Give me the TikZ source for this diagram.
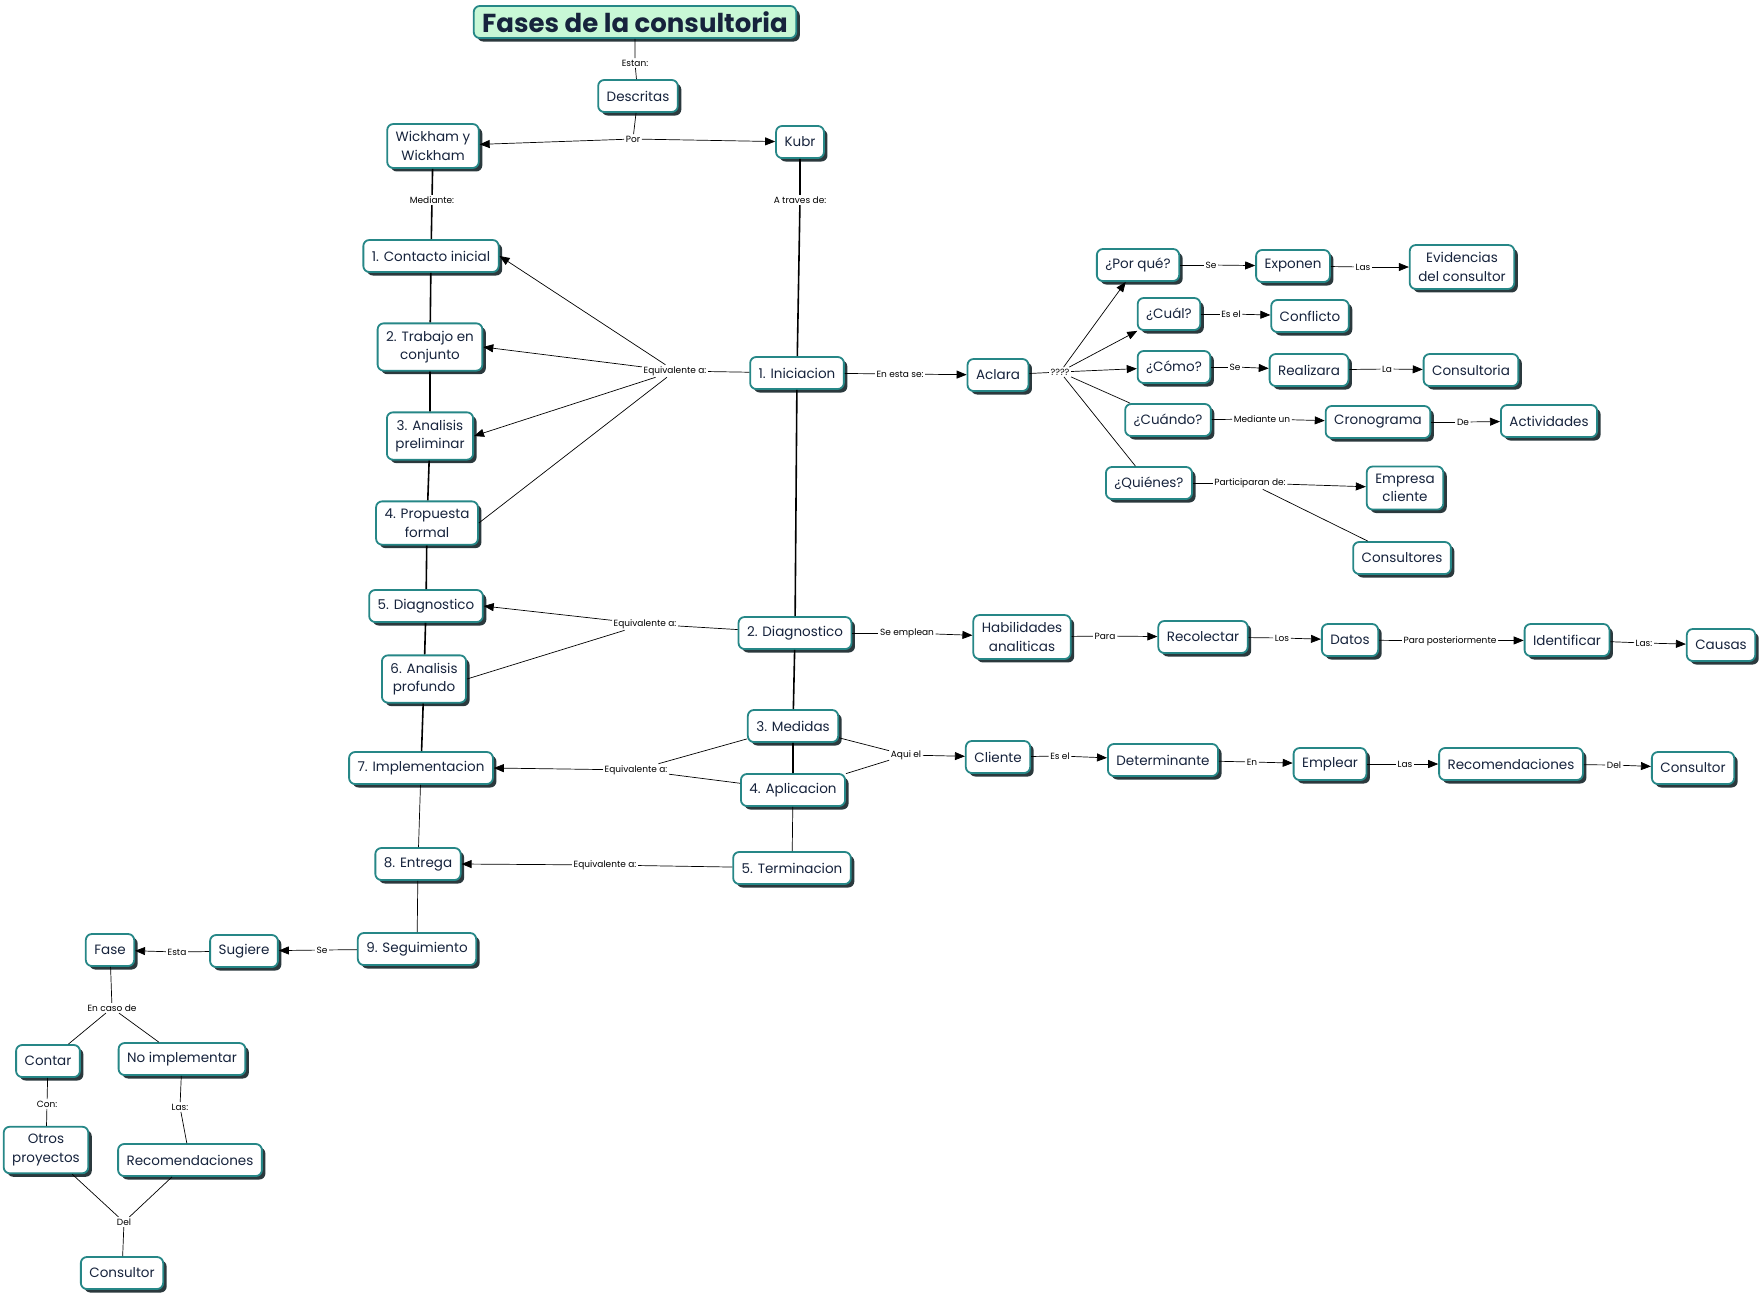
\documentclass[tikz,border=0pt]{standalone}
\usepackage{fontspec}
\setmainfont{Poppins}
\usetikzlibrary{arrows.meta,shadows}
\definecolor{mapteal}{RGB}{38,135,135}
\definecolor{mapnavy}{RGB}{22,35,60}
\definecolor{mapmint}{RGB}{200,248,214}
\definecolor{mapshade}{RGB}{20,35,40}

\begin{document}
\begin{tikzpicture}[x=1pt, y=-1pt,
      concept/.style={draw=mapteal, line width=1.8pt, rounded corners=6pt, fill=white, text=mapnavy, font=\fontsize{13.5}{18.5}\selectfont, align=center, inner xsep=8.5pt, inner ysep=7.5pt, minimum height=32pt, drop shadow={shadow xshift=3.5pt, shadow yshift=-3.5pt, fill=mapshade, opacity=0.9}},
      phrase/.style={font=\fontsize{9}{10}\selectfont, inner sep=1.5pt},
      link/.style={line width=0.7pt},
      spine/.style={line width=1.6pt},
      toarrow/.style={-{Triangle[length=10pt, width=8pt]}}
    ]
      \useasboundingbox (0,0) rectangle (1761,1294);

      \node[concept, fill=mapmint, inner ysep=4pt, font=\bfseries\fontsize{26}{30}\selectfont] (title) at (635,22) {Fases de la consultoria};
      \node[phrase] (estan) at (635,63) {Estan:};
      \node[concept] (desc) at (638,96) {Descritas};
      \node[phrase] (por) at (633,139) {Por};
      \node[concept] (wick) at (433,146) {Wickham y\\Wickham};
      \node[concept] (kubr) at (800,142) {Kubr};
      \node[phrase] (mediante) at (432,200) {Mediante:};
      \node[phrase] (atraves) at (800,200) {A traves de:};

      \node[concept] (contacto) at (431,256) {1. Contacto inicial};
      \node[concept] (trabajo) at (430,347) {2. Trabajo en\\conjunto};
      \node[concept] (prelim) at (430,436) {3. Analisis\\preliminar};
      \node[concept] (propuesta) at (427,523) {4. Propuesta\\formal};
      \node[concept] (diagl) at (426,606) {5. Diagnostico};
      \node[concept] (profundo) at (424,679) {6. Analisis\\profundo};
      \node[concept] (implem) at (421,768) {7. Implementacion};
      \node[concept] (entrega) at (418,864) {8. Entrega};
      \node[concept] (seguim) at (417,949) {9. Seguimiento};

      \node[phrase] (equiv1) at (675,371) {Equivalente a:};
      \node[phrase] (equiv2) at (645,624) {Equivalente a:};
      \node[phrase] (equiv3) at (636,770) {Equivalente a:};
      \node[phrase] (equiv4) at (605,865) {Equivalente a:};

      \node[concept] (inic) at (797,373) {1. Iniciacion};
      \node[concept] (diag) at (795,633) {2. Diagnostico};
      \node[concept] (medidas) at (793,726) {3. Medidas};
      \node[concept] (aplic) at (793,790) {4. Aplicacion};
      \node[concept] (termin) at (792,868) {5. Terminacion};

      \node[phrase] (enesta) at (900,374) {En esta se:};
      \node[concept] (aclara) at (998,375) {Aclara};
      \node[phrase] (preg) at (1060,372) {????};

      \node[concept] (porque) at (1138,265) {¿Por qué?};
      \node[phrase] (se1) at (1211,265) {Se};
      \node[concept] (exponen) at (1293,266) {Exponen};
      \node[phrase] (las1) at (1363,267) {Las};
      \node[concept] (evid) at (1462,267) {Evidencias\\del consultor};

      \node[concept] (cual) at (1169,314) {¿Cuál?};
      \node[phrase] (esel1) at (1231,314) {Es el};
      \node[concept] (conflicto) at (1310,316) {Conflicto};

      \node[concept] (como) at (1174,367) {¿Cómo?};
      \node[phrase] (se2) at (1235,367) {Se};
      \node[concept] (realiza) at (1309,370) {Realizara};
      \node[phrase] (la) at (1387,369) {La};
      \node[concept] (consultoria) at (1471,370) {Consultoria};

      \node[concept] (cuando) at (1168,420) {¿Cuándo?};
      \node[phrase] (medun) at (1262,419) {Mediante un};
      \node[concept] (crono) at (1378,422) {Cronograma};
      \node[phrase] (de) at (1463,422) {De};
      \node[concept] (activ) at (1549,421) {Actividades};

      \node[concept] (quienes) at (1149,483) {¿Quiénes?};
      \node[phrase] (particip) at (1250,483) {Participaran de:};
      \node[concept] (empresa) at (1405,488) {Empresa\\cliente};
      \node[concept] (consultores) at (1402,558) {Consultores};

      \node[phrase] (seemplean) at (907,633) {Se emplean};
      \node[concept] (habil) at (1022,637) {Habilidades\\analiticas};
      \node[phrase] (para) at (1105,636) {Para};
      \node[concept] (recolectar) at (1203,637) {Recolectar};
      \node[phrase] (los) at (1282,638) {Los};
      \node[concept] (datos) at (1350,640) {Datos};
      \node[phrase] (parapost) at (1450,641) {Para posteriormente};
      \node[concept] (identif) at (1567,640) {Identificar};
      \node[phrase] (las2) at (1644,643) {Las:};
      \node[concept] (causas) at (1721,645) {Causas};

      \node[phrase] (aqui) at (906,755) {Aqui el};
      \node[concept] (cliente) at (998,757) {Cliente};
      \node[phrase] (esel2) at (1060,756) {Es el};
      \node[concept] (determ) at (1163,760) {Determinante};
      \node[phrase] (en) at (1252,762) {En};
      \node[concept] (emplear) at (1330,764) {Emplear};
      \node[phrase] (las3) at (1405,764) {Las};
      \node[concept] (recomr) at (1511,764) {Recomendaciones};
      \node[phrase] (del1) at (1614,765) {Del};
      \node[concept] (consultorr) at (1693,768) {Consultor};

      \node[phrase] (se3) at (322,950) {Se};
      \node[concept] (sugiere) at (244,951) {Sugiere};
      \node[phrase] (esta) at (177,952) {Esta};
      \node[concept] (fase) at (110,950) {Fase};
      \node[phrase] (encaso) at (112,1008) {En caso de};
      \node[concept] (contar) at (48,1061) {Contar};
      \node[concept] (noimpl) at (182,1059) {No implementar};
      \node[phrase] (con) at (47,1104) {Con:};
      \node[phrase] (las4) at (180,1107) {Las:};
      \node[concept] (otros) at (46,1150) {Otros\\proyectos};
      \node[concept] (recoml) at (190,1160) {Recomendaciones};
      \node[phrase] (del2) at (124,1222) {Del};
      \node[concept] (consultorl) at (122,1273) {Consultor};

      \draw[link] (title) -- (estan) -- (desc);
      \draw[link] (desc) -- (por);
      \draw[link, toarrow] (por) -- (wick);
      \draw[link, toarrow] (por) -- (kubr);
      \draw[spine] (wick) -- (mediante) -- (contacto);
      \draw[spine] (kubr) -- (atraves) -- (inic);

      \draw[spine] (contacto) -- (trabajo) -- (prelim) -- (propuesta) -- (diagl) -- (profundo) -- (implem);
      \draw[link] (implem) -- (entrega) -- (seguim);
      \draw[spine] (inic) -- (diag) -- (medidas) -- (aplic);
      \draw[link] (aplic) -- (termin);

      \draw[link] (inic) -- (equiv1);
      \draw[link, toarrow] (equiv1) -- (contacto.east);
      \draw[link, toarrow] (equiv1) -- (trabajo.east);
      \draw[link, toarrow] (equiv1) -- (prelim.east);
      \draw[link] (equiv1) -- (propuesta.east);

      \draw[link] (diag) -- (equiv2);
      \draw[link, toarrow] (equiv2) -- (diagl.east);
      \draw[link] (equiv2) -- (profundo.east);

      \draw[link] (medidas) -- (equiv3);
      \draw[link] (aplic) -- (equiv3);
      \draw[link, toarrow] (equiv3) -- (implem.east);

      \draw[link] (termin) -- (equiv4);
      \draw[link, toarrow] (equiv4) -- (entrega.east);

      \draw[link] (inic) -- (enesta);
      \draw[link, toarrow] (enesta) -- (aclara);
      \draw[link] (aclara) -- (preg);
      \draw[link, toarrow] (preg) -- (porque);
      \draw[link, toarrow] (preg) -- (cual);
      \draw[link, toarrow] (preg) -- (como);
      \draw[link] (preg) -- (cuando);
      \draw[link] (preg) -- (quienes);

      \draw[link] (porque) -- (se1);
      \draw[link, toarrow] (se1) -- (exponen);
      \draw[link] (exponen) -- (las1);
      \draw[link, toarrow] (las1) -- (evid);
      \draw[link] (cual) -- (esel1);
      \draw[link, toarrow] (esel1) -- (conflicto);
      \draw[link] (como) -- (se2);
      \draw[link, toarrow] (se2) -- (realiza);
      \draw[link] (realiza) -- (la);
      \draw[link, toarrow] (la) -- (consultoria);
      \draw[link] (cuando) -- (medun);
      \draw[link, toarrow] (medun) -- (crono);
      \draw[link] (crono) -- (de);
      \draw[link, toarrow] (de) -- (activ);
      \draw[link] (quienes) -- (particip);
      \draw[link, toarrow] (particip) -- (empresa);
      \draw[link] (particip) -- (consultores);

      \draw[link] (diag) -- (seemplean);
      \draw[link, toarrow] (seemplean) -- (habil);
      \draw[link] (habil) -- (para);
      \draw[link, toarrow] (para) -- (recolectar);
      \draw[link] (recolectar) -- (los);
      \draw[link, toarrow] (los) -- (datos);
      \draw[link] (datos) -- (parapost);
      \draw[link, toarrow] (parapost) -- (identif);
      \draw[link] (identif) -- (las2);
      \draw[link, toarrow] (las2) -- (causas);

      \draw[link] (medidas) -- (aqui);
      \draw[link] (aplic) -- (aqui);
      \draw[link, toarrow] (aqui) -- (cliente);
      \draw[link] (cliente) -- (esel2);
      \draw[link, toarrow] (esel2) -- (determ);
      \draw[link] (determ) -- (en);
      \draw[link, toarrow] (en) -- (emplear);
      \draw[link] (emplear) -- (las3);
      \draw[link, toarrow] (las3) -- (recomr);
      \draw[link] (recomr) -- (del1);
      \draw[link, toarrow] (del1) -- (consultorr);

      \draw[link] (seguim) -- (se3);
      \draw[link, toarrow] (se3) -- (sugiere);
      \draw[link] (sugiere) -- (esta);
      \draw[link, toarrow] (esta) -- (fase);
      \draw[link] (fase) -- (encaso);
      \draw[link] (encaso) -- (contar);
      \draw[link] (encaso) -- (noimpl);
      \draw[link] (contar) -- (con) -- (otros);
      \draw[link] (noimpl) -- (las4) -- (recoml);
      \draw[link] (otros) -- (del2);
      \draw[link] (recoml) -- (del2);
      \draw[link] (del2) -- (consultorl);
    \end{tikzpicture}
\end{document}
